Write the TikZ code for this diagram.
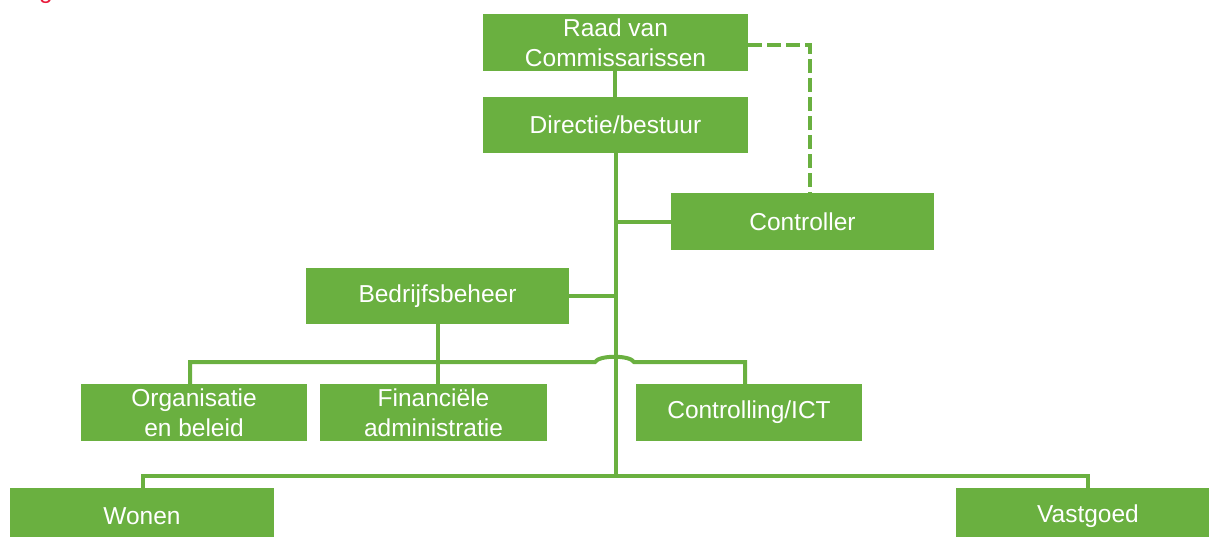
\documentclass[tikz,border=0pt]{standalone}
\usepackage{fontspec}
\setmainfont{Liberation Sans}
\definecolor{bgreen}{RGB}{106,176,64}
\definecolor{tred}{RGB}{232,28,60}
\begin{document}
\begin{tikzpicture}[x=1pt,y=-1pt,
  box/.style={fill=bgreen, draw=none, text=white, align=center, inner sep=0pt,
    font=\fontsize{24.5}{29.5}\selectfont},
  conn/.style={draw=bgreen, line width=4pt},
  dashconn/.style={conn, dash pattern=on 14pt off 5pt}]
\useasboundingbox (0,0) rectangle (1209,537);
\clip (0,0) rectangle (1209,537);
% title fragment
\node[anchor=base, text=tred, inner sep=0pt, font=\fontsize{24.5}{29.5}\selectfont] (title) at (46,-1.5) {g};
% boxes
\node[box, minimum width=265pt, minimum height=57pt] (raad) at (615.5,42.5) {Raad van\\Commissarissen};
\node[box, minimum width=265pt, minimum height=56pt] (dir) at (615.5,125) {Directie/bestuur};
\node[box, minimum width=263pt, minimum height=57pt] (ctrl) at (802.5,222) {Controller};
\node[box, minimum width=263pt, minimum height=56pt] (bedr) at (437.5,296) {Bedrijfsbeheer};
\node[box, minimum width=226pt, minimum height=57pt] (org) at (194,412.5) {Organisatie\\en beleid};
\node[box, minimum width=227pt, minimum height=57pt] (fin) at (433.5,412.5) {Financiële\\administratie};
\node[box, minimum width=226pt, minimum height=57pt] (cict) at (749,412.5) {Controlling/ICT};
\node[box, minimum width=264pt, minimum height=57pt] (wonen) at (142,516.5) {Wonen};
\node[box, minimum width=264pt, minimum height=57pt] (vast) at (1088,516.5) {Vastgoed};
% junction coordinates
\coordinate (mainBot) at (616,476);
\coordinate (jCtrl) at (616,222);
\coordinate (jBedr) at (616,296);
\coordinate (bedrDown) at (438,362);
\coordinate (jOrg) at (190,362);
\coordinate (jCict) at (745,362);
\coordinate (jumpL) at (595,362);
\coordinate (jumpR) at (634,362);
\coordinate (jWonen) at (143,476);
\coordinate (jVast) at (1088,476);
\coordinate (dashCorner) at (810,45);
% connectors
\draw[conn] (raad.south -| 615,0) -- (dir.north -| 615,0);
\draw[conn] (dir.south -| mainBot) -- (mainBot);
\draw[conn] (jCtrl) -- (ctrl.west |- jCtrl);
\draw[conn] (bedr.east |- jBedr) -- (jBedr);
\draw[conn] (bedr.south -| bedrDown) -- (fin.north -| bedrDown);
\draw[conn] (jOrg |- org.north) -- (jOrg) -- (jumpL)
  .. controls (599,355) and (630,355) .. (jumpR) -- (jCict) -- (jCict |- cict.north);
\draw[conn] (jWonen |- wonen.north) -- (jWonen) -- (jVast) -- (jVast |- vast.north);
\draw[dashconn] (raad.east |- dashCorner) -- (dashCorner) -- (dashCorner |- ctrl.north);
\end{tikzpicture}
\end{document}
